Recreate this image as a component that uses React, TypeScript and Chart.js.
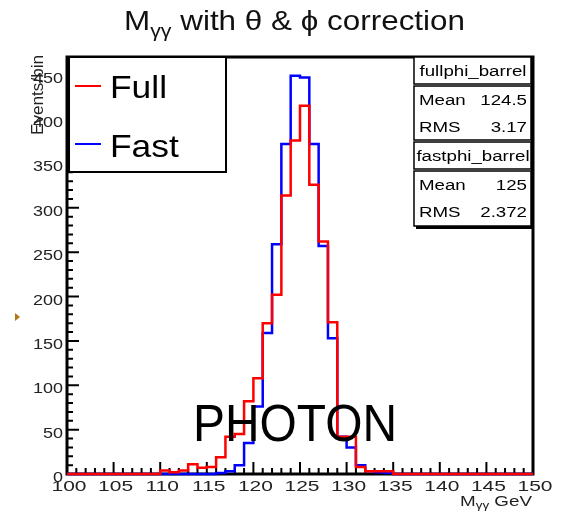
import React, { useEffect, useRef } from "react";
import { Chart, registerables } from "chart.js";

Chart.register(...registerables);

// ---- data ----
const binLow = 100;
const binHigh = 150;
const yMax = 470;

const fullFirstBin = 110;
const fullCounts = [4, 2, 4, 11, 7, 8, 19, 42, 45, 82, 108, 170, 202, 314, 376, 415, 326, 262, 171, 42, 42, 8, 3, 3, 3];

const fastFirstBin = 116;
const fastCounts = [1, 3, 10, 35, 76, 159, 259, 372, 449, 447, 372, 257, 153, 42, 30, 10, 3, 2, 1];

const seriesNames = ["Full", "Fast"];
const seriesColors = ["#ff0000", "#0000ff"];

const yTickLabels = [0, 50, 100, 150, 200, 250, 300, 350, 400, 450];
const xTickLabels = [100, 105, 110, 115, 120, 125, 130, 135, 140, 145, 150];

const statNames = ["fullphi_barrel", "fastphi_barrel"];
const statMeans = ["124.5", "125"];
const statRms = ["3.17", "2.372"];

const FONT = '"Liberation Sans", Arial, "DejaVu Sans", sans-serif';

function toSteps(first: number, counts: number[]) {
  const pts: { x: number; y: number }[] = [];
  for (let b = binLow; b < binHigh; b++) {
    const i = b - first;
    pts.push({ x: b, y: i >= 0 && i < counts.length ? counts[i] : 0 });
  }
  pts.push({ x: binHigh, y: pts[pts.length - 1].y });
  return pts;
}

function measure(ctx: CanvasRenderingContext2D, s: string, size: number) {
  ctx.save();
  ctx.font = `${size}px ${FONT}`;
  const w = ctx.measureText(s).width;
  ctx.restore();
  return w;
}

function txt(
  ctx: CanvasRenderingContext2D,
  s: string,
  x: number,
  y: number,
  size: number,
  align: CanvasTextAlign,
  sx = 1,
  color = "#000"
) {
  ctx.save();
  ctx.font = `${size}px ${FONT}`;
  ctx.fillStyle = color;
  ctx.textBaseline = "alphabetic";
  ctx.textAlign = align;
  ctx.translate(x, y);
  ctx.scale(sx, 1);
  ctx.fillText(s, 0, 0);
  ctx.restore();
}

const framePlugin = {
  id: "rootFrame",
  beforeDatasetsDraw(chart: any) {
    const ctx: CanvasRenderingContext2D = chart.ctx;
    const { left, right, top, bottom } = chart.chartArea;
    const xs = chart.scales.x;
    const ys = chart.scales.y;
    ctx.save();
    ctx.strokeStyle = "#000";
    ctx.lineWidth = 3;
    ctx.strokeRect(left, top, right - left, bottom - top);
    ctx.lineWidth = 2;
    ctx.beginPath();
    for (let v = binLow; v <= binHigh; v++) {
      const px = xs.getPixelForValue(v);
      const len = v % 5 === 0 ? 12 : 6;
      ctx.moveTo(px, bottom);
      ctx.lineTo(px, bottom - len);
    }
    for (let v = 0; v <= yMax; v += 10) {
      const py = ys.getPixelForValue(v);
      const len = v % 50 === 0 ? 12 : 6;
      ctx.moveTo(left, py);
      ctx.lineTo(left + len, py);
    }
    ctx.stroke();
    ctx.restore();
    const ySx = 30 / measure(ctx, "350", 14);
    for (const v of yTickLabels) {
      const py = ys.getPixelForValue(v);
      txt(ctx, String(v), 63, py + 8, 14, "right", ySx, "#222");
    }
    const xSx = 35 / measure(ctx, "105", 14);
    for (const v of xTickLabels) {
      const px = xs.getPixelForValue(v);
      txt(ctx, String(v), px + 2, 491, 14, "center", xSx, "#222");
    }
  },
  afterDraw(chart: any) {
    const ctx: CanvasRenderingContext2D = chart.ctx;
    // Title with subscript
    const t1 = "M";
    const t2 = "γγ";
    const t3 = " with θ & ϕ correction";
    const w1 = measure(ctx, t1, 28);
    const w2 = measure(ctx, t2, 19);
    const w3 = measure(ctx, t3, 28);
    const tSx = 341 / (w1 + w2 + w3);
    const tx = 124;
    txt(ctx, t1, tx, 30, 28, "left", tSx, "#111");
    txt(ctx, t2, tx + w1 * tSx, 37, 19, "left", tSx, "#111");
    txt(ctx, t3, tx + (w1 + w2) * tSx, 30, 28, "left", tSx, "#111");

    // Y axis title
    const eSx = 80 / measure(ctx, "Events/bin", 16);
    ctx.save();
    ctx.translate(43, 55);
    ctx.rotate(-Math.PI / 2);
    ctx.scale(eSx, 1);
    ctx.font = `16px ${FONT}`;
    ctx.fillStyle = "#222";
    ctx.textAlign = "right";
    ctx.fillText("Events/bin", 0, 0);
    ctx.restore();

    // X axis title
    const a1 = measure(ctx, "M", 14);
    const a2 = measure(ctx, "γγ", 10);
    const a3 = measure(ctx, " GeV", 14);
    const aSx = 72 / (a1 + a2 + a3);
    const ax = 460;
    txt(ctx, "M", ax, 506, 14, "left", aSx, "#222");
    txt(ctx, "γγ", ax + a1 * aSx, 509, 10, "left", aSx, "#222");
    txt(ctx, " GeV", ax + (a1 + a2) * aSx, 506, 14, "left", aSx, "#222");

    // Legend box
    ctx.save();
    ctx.fillStyle = "#fff";
    ctx.fillRect(69, 57, 157, 115);
    ctx.strokeStyle = "#000";
    ctx.lineWidth = 2;
    ctx.strokeRect(69, 57, 157, 115);
    const legY = [86, 144];
    for (let i = 0; i < seriesNames.length; i++) {
      ctx.strokeStyle = seriesColors[i];
      ctx.lineWidth = 2;
      ctx.beginPath();
      ctx.moveTo(75, legY[i]);
      ctx.lineTo(101, legY[i]);
      ctx.stroke();
    }
    ctx.restore();
    const lSx = 57 / measure(ctx, "Full", 32);
    const legBase = [98, 157];
    for (let i = 0; i < seriesNames.length; i++) {
      txt(ctx, seriesNames[i], 110, legBase[i], 32, "left", lSx, "#000");
    }

    // Stats boxes
    const boxes = [
      [57, 27],
      [86, 54],
      [142, 27],
      [171, 55],
    ];
    ctx.save();
    ctx.fillStyle = "#fff";
    ctx.strokeStyle = "#000";
    ctx.lineWidth = 1.5;
    for (const [y, h] of boxes) {
      ctx.fillRect(414, y, 117, h);
      ctx.strokeRect(414, y, 117, h);
    }
    ctx.lineWidth = 3;
    ctx.beginPath();
    ctx.moveTo(532.5, 57);
    ctx.lineTo(532.5, 228);
    ctx.moveTo(416, 227.5);
    ctx.lineTo(533, 227.5);
    ctx.stroke();
    ctx.restore();
    const sSx = 107 / measure(ctx, "fullphi_barrel", 14);
    for (let i = 0; i < statNames.length; i++) {
      const y0 = i === 0 ? 57 : 142;
      txt(ctx, statNames[i], 473, y0 + 19, 14, "center", sSx);
      txt(ctx, "Mean", 419, y0 + 48, 14, "left", sSx);
      txt(ctx, statMeans[i], 527, y0 + 48, 14, "right", sSx);
      txt(ctx, "RMS", 419, y0 + 75, 14, "left", sSx);
      txt(ctx, statRms[i], 527, y0 + 75, 14, "right", sSx);
    }

    // PHOTON label
    const pSx = 204 / measure(ctx, "PHOTON", 51);
    txt(ctx, "PHOTON", 295, 441, 51, "center", pSx, "#000");

    // small marker at left
    ctx.save();
    ctx.fillStyle = "#b07818";
    ctx.beginPath();
    ctx.moveTo(15, 313);
    ctx.lineTo(20, 317);
    ctx.lineTo(15, 321);
    ctx.closePath();
    ctx.fill();
    ctx.restore();
  },
};

export default function App() {
  const ref = useRef<HTMLCanvasElement | null>(null);
  useEffect(() => {
    if (!ref.current) return;
    const chart = new Chart(ref.current, {
      type: "line",
      data: {
        datasets: [
          {
            label: seriesNames[0],
            data: toSteps(fullFirstBin, fullCounts),
            borderColor: seriesColors[0],
            borderWidth: 2.5,
            stepped: true,
            pointRadius: 0,
            fill: false,
            clip: false,
          } as any,
          {
            label: seriesNames[1],
            data: toSteps(fastFirstBin, fastCounts),
            borderColor: seriesColors[1],
            borderWidth: 2.5,
            stepped: true,
            pointRadius: 0,
            fill: false,
            clip: false,
          } as any,
        ],
      },
      options: {
        responsive: false,
        animation: false,
        parsing: false as any,
        layout: { padding: { left: 67, top: 57, right: 33, bottom: 41 } },
        scales: {
          x: { type: "linear", min: binLow, max: binHigh, display: false },
          y: { type: "linear", min: 0, max: yMax, display: false },
        },
        plugins: {
          legend: { display: false },
          title: { display: false },
          tooltip: { enabled: false },
        },
      },
      plugins: [framePlugin],
    });
    return () => chart.destroy();
  }, []);
  return (
    <div style={{ position: "fixed", left: 0, top: 0, width: 566, height: 515, background: "#fff" }}>
      <canvas ref={ref} width={566} height={515} />
    </div>
  );
}
